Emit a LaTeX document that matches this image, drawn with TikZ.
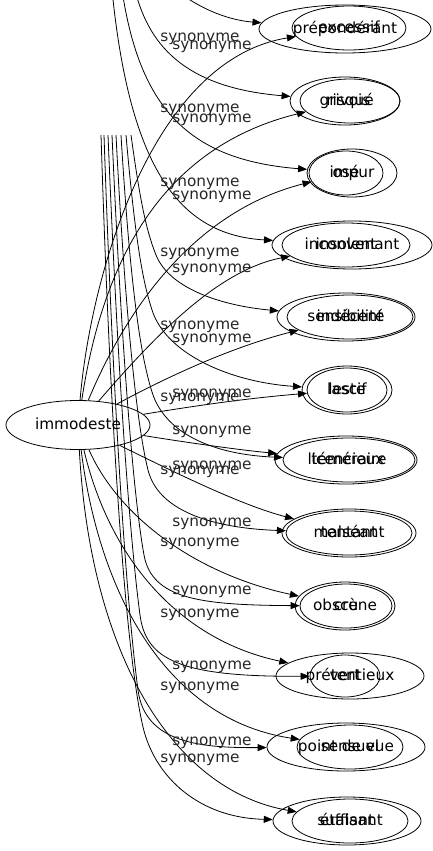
\documentclass[tikz,border=0pt]{standalone}
\usepackage{fontspec}
\setmainfont{DejaVu Sans}
\usetikzlibrary{shapes.geometric,arrows.meta}
\tikzset{
  mot/.style={draw, ellipse, inner sep=0pt, text height=12.5pt, text depth=4pt, font=\fontsize{15.3}{18}\selectfont},
  syn/.style={anchor=west, inner sep=0pt, text height=12.5pt, text depth=4pt, text=black!85, font=\fontsize{15.3}{18}\selectfont},
  rel/.style={line width=0.8pt, -{Triangle[length=9pt,width=7pt]}}
}
\begin{document}
\begin{tikzpicture}[x=1pt,y=-1pt,line width=0.8pt]
            \useasboundingbox (0,0) rectangle (433,851);
            \clip (0,0) rectangle (433,851);
            \node[mot, minimum width=144, minimum height=49] (imm) at (78,425) {immodeste}; %centre
            \node[mot, minimum width=114, minimum height=44] (a1) at (349,28) {excessif};
            \node[mot, minimum width=172, minimum height=48] (b1) at (345,29) {prépondérant};
            \node[mot, minimum width=100, minimum height=44] (a2) at (350,101) {risqué};
            \node[mot, minimum width=110, minimum height=48] (b2) at (345,101) {grivois};
            \node[mot, minimum width=74, minimum height=44] (a3) at (346,173) {osé};
            \node[mot, minimum width=90, minimum height=48] (b3) at (352,173) {impur};
            \node[mot, minimum width=128, minimum height=44] (a4) at (346,245) {insolent};
            \node[mot, minimum width=160, minimum height=48] (b4) at (352,245) {inconvenant};
            \node[mot, minimum width=126, minimum height=44] (a5) at (350,317) {indécent};
            \node[mot, minimum width=138, minimum height=48] (b5) at (346,317) {sensibilité};
            \node[mot, minimum width=80, minimum height=44] (a6) at (347,390) {lascif};
            \node[mot, minimum width=90, minimum height=48] (b6) at (347,390) {leste};
            \node[mot, minimum width=142, minimum height=48] (a7) at (346,460) {licencieux};
            \node[mot, minimum width=132, minimum height=44] (b7) at (349,460) {téméraire};
            \node[mot, minimum width=134, minimum height=48] (a8) at (349,533) {malséant};
            \node[mot, minimum width=126, minimum height=44] (b8) at (349,533) {tentant};
            \node[mot, minimum width=100, minimum height=48] (a9) at (345,606) {obscène};
            \node[mot, minimum width=92, minimum height=44] (b9) at (346,606) {cru};
            \node[mot, minimum width=148, minimum height=46] (a10) at (350,676) {prétentieux};
            \node[mot, minimum width=70, minimum height=42] (b10) at (345,676) {vert};
            \node[mot, minimum width=106, minimum height=44] (a11) at (350,747) {sensuel};
            \node[mot, minimum width=158, minimum height=48] (b11) at (346,747) {point de vue};
            \node[mot, minimum width=116, minimum height=44] (a12) at (350,821) {suffisant};
            \node[mot, minimum width=148, minimum height=48] (b12) at (347,821) {étalant};
            % depart hors cadre et faisceau
            \coordinate (t1) at (165,-20);
            \coordinate (t2) at (135,-10);
            \coordinate (t3) at (122,-10);
            \coordinate (t4) at (112,-10);
            \coordinate (s5) at (131,135);
            \coordinate (s6) at (126,135);
            \coordinate (s7) at (121,135);
            \coordinate (s8) at (116,135);
            \coordinate (s9) at (112,135);
            \coordinate (s10) at (108,135);
            \coordinate (s11) at (104,135);
            \coordinate (s12) at (101,135);
            % aretes depuis immodeste
            \draw[rel] (imm) .. controls (90,280) and (150,60) .. (a1);
            \draw[rel] (imm) .. controls (100,280) and (150,150) .. (a2);
            \draw[rel] (imm) .. controls (130,300) and (200,210) .. (a3);
            \draw[rel] (imm) .. controls (160,330) and (220,270) .. (a4);
            \draw[rel] (imm) .. controls (180,370) and (240,345) .. (a5);
            \draw[rel] (imm) .. controls (200,405) and (250,398) .. (a6);
            \draw[rel] (imm) .. controls (190,443) and (240,450) .. (a7);
            \draw[rel] (imm) .. controls (170,470) and (240,505) .. (a8);
            \draw[rel] (imm) .. controls (120,520) and (200,575) .. (a9);
            \draw[rel] (imm) .. controls (110,560) and (180,640) .. (a10);
            \draw[rel] (imm) .. controls (100,600) and (170,720) .. (a11);
            \draw[rel] (imm) .. controls (90,650) and (170,790) .. (a12);
            % aretes venant du haut
            \draw[rel] (t1) .. controls (190,5) and (225,20) .. (b1);
            \draw[rel] (t2) .. controls (150,50) and (190,88) .. (b2);
            \draw[rel] (t3) .. controls (140,110) and (190,160) .. (b3);
            \draw[rel] (t4) .. controls (130,170) and (180,235) .. (b4);
            \draw[rel] (s5) .. controls (140,200) and (146,230) .. (156,255) .. controls (170,290) and (225,306) .. (b5);
            \draw[rel] (s6) .. controls (136,250) and (144,285) .. (152,310) .. controls (166,354) and (230,382) .. (b6);
            \draw[rel] (s7) .. controls (131,300) and (142,360) .. (152,392) .. controls (166,437) and (220,455) .. (b7);
            \draw[rel] (s8) .. controls (126,330) and (138,430) .. (148,470) .. controls (158,510) and (210,528) .. (b8);
            \draw[rel] (s9) .. controls (122,360) and (134,500) .. (144,555) .. controls (152,599) and (200,605) .. (b9);
            \draw[rel] (s10) .. controls (118,380) and (130,540) .. (140,615) .. controls (146,660) and (180,677) .. (b10);
            \draw[rel] (s11) .. controls (113,400) and (126,600) .. (138,690) .. controls (145,743) and (200,748) .. (b11);
            \draw[rel] (s12) .. controls (110,420) and (125,650) .. (143,727) .. controls (155,778) and (200,818) .. (b12);
            % etiquettes
            \foreach \y [count=\i] in {37,108,182,252,325,397,470,542,613,686,758}
                \node[syn] (lb\i) at (160,\y) {synonyme};
            \foreach \y [count=\i] in {45,118,195,268,338,393,430,465,522,590,665,741}
                \node[syn] (la\i) at (172,\y) {synonyme};
\end{tikzpicture}
\end{document}
